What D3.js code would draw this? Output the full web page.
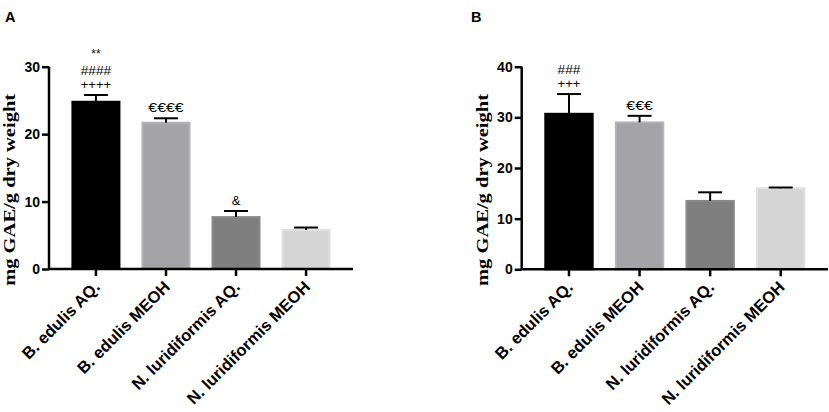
<!DOCTYPE html>
<html>
<head>
<meta charset="utf-8">
<script src="https://cdn.jsdelivr.net/npm/d3@7"></script>
<style>
  body { margin: 0; background: #fff; }
  svg { display: block; }
</style>
</head>
<body>
<script>
// DATA
var groups = ["B. edulis AQ.", "B. edulis MEOH", "N. luridiformis AQ.", "N. luridiformis MEOH"];
var barColors = ["#000000", "#a3a3a8", "#7f7f7f", "#d5d5d5"];
var barStroke = ["#000000", "#b3b3b7", "#8a8a8a", "#e0e0e0"];

var valuesA = [24.8, 21.7, 7.7, 5.8];
var errorsA = [1.0, 0.65, 0.9, 0.35];
var ticksA = [0, 10, 20, 30];
var marksA = [["**", "####", "++++"], ["€€€€"], ["&"], []];

var valuesB = [30.7, 29.0, 13.5, 16.0];
var errorsB = [3.9, 1.3, 1.7, 0.15];
var ticksB = [0, 10, 20, 30, 40];
var marksB = [["###", "+++"], ["€€€"], [], []];

var yTitle = "mg GAE/g dry weight";

var svg = d3.select("body").append("svg")
  .attr("width", 829)
  .attr("height", 412);

function panel(opt) {
  var g = svg.append("g");

  var x = d3.scaleBand()
    .domain(groups)
    .range([opt.x0, opt.x1])
    .paddingInner(0.3)
    .paddingOuter(0.32);

  var y = d3.scaleLinear()
    .domain([0, opt.max])
    .range([opt.y0, opt.y1]);

  // bars
  g.selectAll("rect.bar")
    .data(opt.values)
    .enter().append("rect")
    .attr("class", "bar")
    .attr("x", function (d, i) { return x(groups[i]) + 1; })
    .attr("width", x.bandwidth() - 2)
    .attr("y", function (d) { return y(d); })
    .attr("height", function (d) { return opt.y0 - y(d); })
    .style("fill", function (d, i) { return barColors[i]; })
    .style("stroke", function (d, i) { return barStroke[i]; })
    .style("stroke-width", 2);

  // error bars (upper only)
  var eb = g.selectAll("g.err")
    .data(opt.values)
    .enter().append("g")
    .attr("class", "err");
  eb.append("line")
    .attr("x1", function (d, i) { return x(groups[i]) + x.bandwidth() / 2; })
    .attr("x2", function (d, i) { return x(groups[i]) + x.bandwidth() / 2; })
    .attr("y1", function (d) { return y(d); })
    .attr("y2", function (d, i) { return y(d + opt.errors[i]); })
    .style("stroke", "#000").style("stroke-width", 2);
  eb.append("line")
    .attr("x1", function (d, i) { return x(groups[i]) + x.bandwidth() / 2 - 12; })
    .attr("x2", function (d, i) { return x(groups[i]) + x.bandwidth() / 2 + 12; })
    .attr("y1", function (d, i) { return y(d + opt.errors[i]); })
    .attr("y2", function (d, i) { return y(d + opt.errors[i]); })
    .style("stroke", "#000").style("stroke-width", 2);

  // significance marks, stacked above the error bar
  opt.marks.forEach(function (list, i) {
    var cx = x(groups[i]) + x.bandwidth() / 2;
    var top = y(opt.values[i] + opt.errors[i]);
    list.slice().reverse().forEach(function (m, k) {
      var small = m === "**";
      var t = g.append("text")
        .attr("x", cx)
        .attr("y", top - 6 - k * 14 - (small ? 3 : 0))
        .attr("text-anchor", "middle")
        .style("font-family", "'Liberation Sans', Arial, sans-serif")
        .style("font-size", small ? "12px" : "13px")
        .text(m);
      if (m.length > 1 && !small) {
        t.attr("textLength", m.charAt(0) === "€" ? m.length * 8.8 : m.length * 7.6)
         .attr("lengthAdjust", "spacingAndGlyphs");
      }
    });
  });

  // y axis
  var yAxis = g.append("g")
    .attr("transform", "translate(" + opt.x0 + ",0)")
    .call(d3.axisLeft(y).tickValues(opt.ticks).tickSize(7).tickPadding(2));
  // x axis
  var xAxis = g.append("g")
    .attr("transform", "translate(0," + opt.y0 + ")")
    .call(d3.axisBottom(x).tickSize(7).tickFormat(""));

  [yAxis, xAxis].forEach(function (a) {
    a.select(".domain").style("stroke", "#000").style("stroke-width", 2.5)
      .attr("d", a === yAxis
        ? "M0," + opt.y1 + "V" + opt.y0
        : "M" + opt.x0 + "," + "0H" + opt.x1);
    a.selectAll(".tick line").style("stroke", "#000").style("stroke-width", 2.5);
  });
  yAxis.selectAll(".tick text")
    .style("font-family", "'Liberation Sans', Arial, sans-serif")
    .style("font-weight", "bold")
    .style("font-size", "14px")
    .style("fill", "#000");

  // rotated category labels
  groups.forEach(function (name) {
    var cx = x(name) + x.bandwidth() / 2;
    g.append("text")
      .attr("transform", "translate(" + (cx + 5) + "," + (opt.y0 + 19) + ") rotate(-45)")
      .attr("text-anchor", "end")
      .style("font-family", "'Liberation Sans', Arial, sans-serif")
      .style("font-weight", "bold")
      .style("font-size", "16.5px")
      .text(name);
  });

  // y title
  g.append("text")
    .attr("transform", "translate(" + (opt.x0 - 34) + "," + ((opt.y0 + opt.y1) / 2 + 22) + ") rotate(-90)")
    .attr("text-anchor", "middle")
    .attr("textLength", 192)
    .attr("lengthAdjust", "spacingAndGlyphs")
    .style("font-family", "'Liberation Serif', 'Times New Roman', serif")
    .style("font-weight", "bold")
    .style("font-size", "17px")
    .text(yTitle);

  // panel letter
  svg.append("text")
    .attr("x", opt.lx)
    .attr("y", 21.5)
    .style("font-family", "'Liberation Sans', Arial, sans-serif")
    .style("font-weight", "bold")
    .style("font-size", "14.5px")
    .text(opt.letter);
}

panel({ letter: "A", lx: 5, x0: 49, x1: 353, y0: 269, y1: 66.7, max: 30,
        values: valuesA, errors: errorsA, ticks: ticksA, marks: marksA });
panel({ letter: "B", lx: 471, x0: 521.7, x1: 828, y0: 269.3, y1: 66.7, max: 40,
        values: valuesB, errors: errorsB, ticks: ticksB, marks: marksB });
</script>
</body>
</html>
